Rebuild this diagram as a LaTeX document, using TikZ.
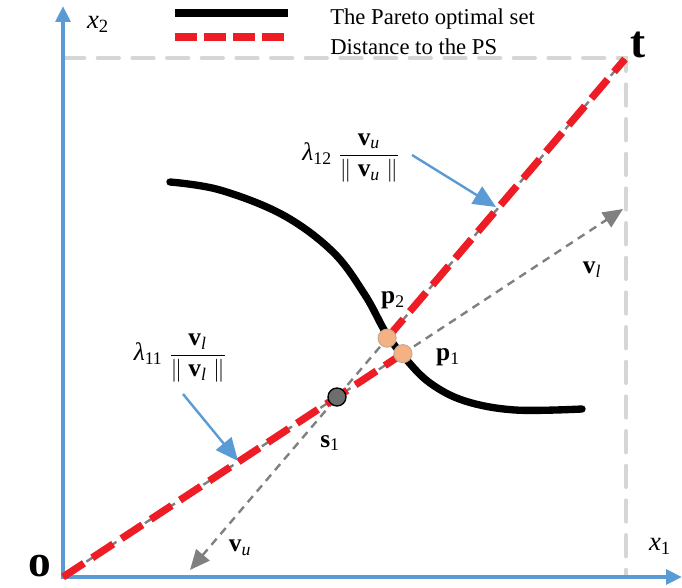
\documentclass[tikz,border=0pt]{standalone}
\usepackage{fontspec}
\setmainfont{Liberation Serif}
\usepackage{amsmath}
\usetikzlibrary{arrows.meta,calc}
\definecolor{axisblue}{HTML}{5B9BD5}
\definecolor{psred}{HTML}{EE1C25}
\definecolor{boxgray}{HTML}{D6D6D6}
\definecolor{vecgray}{HTML}{808080}
\definecolor{peach}{HTML}{F4B183}
\definecolor{peachedge}{HTML}{C8AA90}
\definecolor{sgray}{HTML}{6E6E6E}
\begin{document}
\begin{tikzpicture}[x=0.75pt,y=-0.75pt,
  axis/.style={draw=axisblue,line width=3pt},
  boxline/.style={draw=boxgray,line width=3pt,dash pattern=on 16pt off 10pt,line cap=round},
  vecline/.style={draw=vecgray,line width=1.8pt,dash pattern=on 6pt off 4.5pt,-{Triangle[length=15pt,width=13pt]}},
  redline/.style={draw=psred,line width=5.5pt,dash pattern=on 18.75pt off 7.5pt},
  legred/.style={draw=psred,line width=5.5pt,dash pattern=on 16.5pt off 5.2pt},
  psline/.style={draw=black,line width=5.5pt,line cap=round},
  callout/.style={draw=axisblue,line width=1.8pt,-{Triangle[length=17pt,width=15pt]}},
  ptdot/.style={circle,fill=peach,draw=peachedge,line width=0.8pt,minimum size=13.5pt,inner sep=0pt},
  sdot/.style={circle,fill=sgray,draw=black,line width=1pt,minimum size=13.5pt,inner sep=0pt},
  lbl/.style={font=\fontsize{19}{19}\selectfont,inner sep=0pt},
  axlbl/.style={font=\fontsize{20}{20}\selectfont,inner sep=0pt},
  big/.style={font=\fontsize{34}{34}\selectfont\bfseries,inner sep=0pt},
  legtext/.style={font=\fontsize{17}{17}\selectfont,anchor=west,inner sep=0pt},
  fraclbl/.style={font=\fontsize{19}{19}\selectfont,inner sep=0pt},
]
\useasboundingbox (0,0) rectangle (682,588);

% key points
\coordinate (o) at (63,577);
\coordinate (t) at (625,59);
\coordinate (s1c) at (337,397);
\coordinate (vltip) at (623,209);
\coordinate (vutip) at (190,570);
\coordinate (p1c) at ($(o)!0.607!(vltip)$);
\coordinate (p2c) at ($(t)!0.826!(s1c)$);
\coordinate (ytip) at (63,6);
\coordinate (xtip) at (682,577);
\coordinate (boxtl) at (63,58);
\coordinate (boxbr) at (626,577);

% dashed box
\draw[boxline] (boxtl) -| (boxbr);

% axes
\draw[axis,{Triangle[length=12pt,width=11pt]}-{Triangle[length=12pt,width=11pt]}] (ytip) -- (o) -- (xtip);

% direction vectors
\draw[vecline] (o) -- (vltip);
\draw[vecline] (t) -- (vutip);

% Pareto set
\draw[psline] plot[smooth,tension=0.6] coordinates {(170,182) (220,190) (283,215) (333,252) (365,295) (386,333) (405,358) (430,383) (465,401) (515,410) (582,409)};

% distances
\draw[redline] (o) -- (p1c);
\draw[redline] (p2c) -- (t);

% points
\node[sdot] (s1) at (s1c) {};
\node[ptdot] (p2) at (p2c) {};
\node[ptdot] (p1) at (p1c) {};

% labels
\node[big] (olbl) at (40,566) {o};
\node[big] (tlbl) at (638,45) {t};
\node[axlbl] (x2) at (98,24) {\textit{x}\textsubscript{2}};
\node[axlbl] (x1) at (660,546) {\textit{x}\textsubscript{1}};
\node[lbl] (p2l) at (393,300) {\textbf{p}\textsubscript{2}};
\node[lbl] (p1l) at (448,357) {\textbf{p}\textsubscript{1}};
\node[lbl] (s1l) at (330,443) {\textbf{s}\textsubscript{1}};
\node[lbl] (vll) at (592,270) {\textbf{v}\textsubscript{\textit{l}}};
\node[lbl] (vul) at (240,548) {\textbf{v}\textsubscript{\textit{u}}};

% fraction labels
\node[fraclbl] (lam12) at (351,158) {$\text{\textit{λ}}_{\text{12}}\;\dfrac{\text{\textbf{v}}_{\textit{u}}}{\|\;\text{\textbf{v}}_{\textit{u}}\;\|}$};
\node[fraclbl] (lam11) at (180,358) {$\text{\textit{λ}}_{\text{11}}\;\dfrac{\text{\textbf{v}}_{\textit{l}}}{\|\;\text{\textbf{v}}_{\textit{l}}\;\|}$};
\coordinate (c12s) at (412,155);
\coordinate (c12e) at (496,207);
\coordinate (c11s) at (183,394);
\coordinate (c11e) at (238,461);
\draw[callout] (c12s) -- (c12e);
\draw[callout] (c11s) -- (c11e);

% legend
\coordinate (lg1a) at (175,13);
\coordinate (lg1b) at (288,13);
\coordinate (lg2a) at (175,37);
\coordinate (lg2b) at (286,37);
\draw[draw=black,line width=6pt] (lg1a) -- (lg1b);
\draw[legred] (lg2a) -- (lg2b);
\node[legtext] (leg1) at (330,19) {The Pareto optimal set};
\node[legtext] (leg2) at (330,47) {Distance to the PS};
\end{tikzpicture}
\end{document}
